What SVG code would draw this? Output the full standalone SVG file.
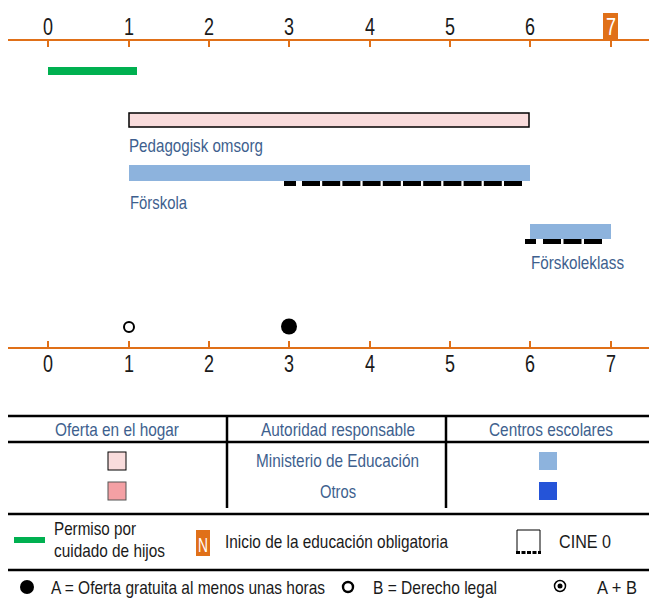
<svg xmlns="http://www.w3.org/2000/svg" width="649" height="600" viewBox="0 0 649 600">
<defs>
<style>
text{font-family:"Liberation Sans",Arial,sans-serif}
.num{font-size:23px;fill:#1a1a1a;text-anchor:middle}
.lbl{font-size:19px;fill:#3e5f8e}
.hdr{font-size:19px;fill:#3e5f8e}
.leg{font-size:19px;fill:#1a1a1a}
.axis{stroke:#e07018;stroke-width:2}
.tick{stroke:#e07018;stroke-width:2}
.rule{stroke:#000;stroke-width:2.5}
.dash{stroke:#000;stroke-width:5}
</style>
</defs>
<g id="top-axis">
<line class="axis" x1="8" y1="40" x2="649" y2="40"/>
<g class="tick">
<line x1="48" y1="40" x2="48" y2="47"/><line x1="129" y1="40" x2="129" y2="47"/><line x1="209" y1="40" x2="209" y2="47"/><line x1="289" y1="40" x2="289" y2="47"/><line x1="370" y1="40" x2="370" y2="47"/><line x1="450" y1="40" x2="450" y2="47"/><line x1="530" y1="40" x2="530" y2="47"/><line x1="611" y1="40" x2="611" y2="47"/>
</g>
<rect x="603" y="13" width="15" height="27" fill="#e07018"/>
<text class="num" x="48" y="35" textLength="10" lengthAdjust="spacingAndGlyphs">0</text><text class="num" x="129" y="35" textLength="10" lengthAdjust="spacingAndGlyphs">1</text><text class="num" x="209" y="35" textLength="10" lengthAdjust="spacingAndGlyphs">2</text><text class="num" x="289" y="35" textLength="10" lengthAdjust="spacingAndGlyphs">3</text><text class="num" x="370" y="35" textLength="10" lengthAdjust="spacingAndGlyphs">4</text><text class="num" x="450" y="35" textLength="10" lengthAdjust="spacingAndGlyphs">5</text><text class="num" x="530" y="35" textLength="10" lengthAdjust="spacingAndGlyphs">6</text><text class="num" x="611" y="35" textLength="10" lengthAdjust="spacingAndGlyphs" style="fill:#fff">7</text>
</g>
<g id="permiso-bar"><rect x="48" y="67" width="89" height="8" fill="#00b050"/></g>
<g id="pedagogisk-omsorg">
<rect x="129" y="113" width="400" height="14" fill="#f9dcdc" stroke="#000" stroke-width="1.5"/>
<text class="lbl" x="129" y="152" textLength="134" lengthAdjust="spacingAndGlyphs">Pedagogisk omsorg</text>
</g>
<g id="forskola">
<rect x="129" y="165" width="401" height="16" fill="#8db3dd"/>
<line class="dash" x1="284" y1="183.5" x2="296" y2="183.5"/>
<line class="dash" x1="302" y1="183.5" x2="524" y2="183.5" stroke-dasharray="18 2.2"/>
<text class="lbl" x="130" y="209" textLength="57" lengthAdjust="spacingAndGlyphs">Förskola</text>
</g>
<g id="forskoleklass">
<rect x="530" y="224" width="81" height="15" fill="#8db3dd"/>
<line class="dash" x1="525" y1="241.5" x2="536" y2="241.5"/>
<line class="dash" x1="543" y1="241.5" x2="603" y2="241.5" stroke-dasharray="18 2.5"/>
<text class="lbl" x="531" y="269" textLength="93" lengthAdjust="spacingAndGlyphs">Förskoleklass</text>
</g>
<g id="bottom-axis">
<line class="axis" x1="8" y1="348" x2="649" y2="348"/>
<g class="tick">
<line x1="48" y1="341" x2="48" y2="348"/><line x1="129" y1="341" x2="129" y2="348"/><line x1="209" y1="341" x2="209" y2="348"/><line x1="289" y1="341" x2="289" y2="348"/><line x1="370" y1="341" x2="370" y2="348"/><line x1="450" y1="341" x2="450" y2="348"/><line x1="530" y1="341" x2="530" y2="348"/><line x1="611" y1="341" x2="611" y2="348"/>
</g>
<text class="num" x="48" y="372" textLength="10" lengthAdjust="spacingAndGlyphs">0</text><text class="num" x="129" y="372" textLength="10" lengthAdjust="spacingAndGlyphs">1</text><text class="num" x="209" y="372" textLength="10" lengthAdjust="spacingAndGlyphs">2</text><text class="num" x="289" y="372" textLength="10" lengthAdjust="spacingAndGlyphs">3</text><text class="num" x="370" y="372" textLength="10" lengthAdjust="spacingAndGlyphs">4</text><text class="num" x="450" y="372" textLength="10" lengthAdjust="spacingAndGlyphs">5</text><text class="num" x="530" y="372" textLength="10" lengthAdjust="spacingAndGlyphs">6</text><text class="num" x="611" y="372" textLength="10" lengthAdjust="spacingAndGlyphs">7</text>
<circle cx="129" cy="327" r="5" fill="#fff" stroke="#000" stroke-width="2"/>
<circle cx="289" cy="326.5" r="8" fill="#000"/>
</g>
<g id="table">
<line class="rule" x1="8" y1="416" x2="649" y2="416"/>
<line class="rule" x1="8" y1="442" x2="649" y2="442"/>
<line class="rule" x1="227" y1="416" x2="227" y2="508"/>
<line class="rule" x1="446" y1="416" x2="446" y2="508"/>
<text class="hdr" x="55" y="436" textLength="124" lengthAdjust="spacingAndGlyphs">Oferta en el hogar</text>
<text class="hdr" x="261" y="436" textLength="154" lengthAdjust="spacingAndGlyphs">Autoridad responsable</text>
<text class="hdr" x="489" y="436" textLength="124" lengthAdjust="spacingAndGlyphs">Centros escolares</text>
<rect x="108" y="452" width="18" height="18" fill="#f9dcdc" stroke="#000" stroke-width="1"/>
<text class="hdr" x="256" y="467" textLength="163" lengthAdjust="spacingAndGlyphs">Ministerio de Educación</text>
<rect x="539" y="452" width="18" height="18" fill="#8db3dd"/>
<rect x="108" y="482" width="18" height="18" fill="#f4a0a4" stroke="#555" stroke-width="1"/>
<text class="hdr" x="320" y="498" textLength="36" lengthAdjust="spacingAndGlyphs">Otros</text>
<rect x="539" y="482" width="18" height="18" fill="#2554d8"/>
</g>
<g id="legend">
<line class="rule" x1="8" y1="514" x2="649" y2="514"/>
<rect x="14" y="537" width="31" height="6" fill="#00b050"/>
<text class="leg" x="54" y="535" textLength="82" lengthAdjust="spacingAndGlyphs">Permiso por</text>
<text class="leg" x="54" y="557" textLength="111" lengthAdjust="spacingAndGlyphs">cuidado de hijos</text>
<rect x="196" y="530" width="14" height="26" fill="#e07018"/>
<text class="leg" x="203" y="552" text-anchor="middle" textLength="10" lengthAdjust="spacingAndGlyphs" style="fill:#fff;font-size:21px">N</text>
<text class="leg" x="225" y="548" textLength="223" lengthAdjust="spacingAndGlyphs">Inicio de la educación obligatoria</text>
<path d="M517 553 V530 H540 V553" fill="none" stroke="#000" stroke-width="1"/>
<line x1="516" y1="552.5" x2="541" y2="552.5" stroke="#000" stroke-width="3" stroke-dasharray="4 1.5"/>
<text class="leg" x="559" y="548" textLength="52" lengthAdjust="spacingAndGlyphs">CINE 0</text>
<line class="rule" x1="8" y1="570" x2="649" y2="570"/>
<circle cx="27" cy="587" r="7" fill="#000"/>
<text class="leg" x="51" y="594" textLength="274" lengthAdjust="spacingAndGlyphs">A = Oferta gratuita al menos unas horas</text>
<circle cx="348" cy="587" r="5" fill="#fff" stroke="#000" stroke-width="2.4"/>
<text class="leg" x="373" y="594" textLength="124" lengthAdjust="spacingAndGlyphs">B = Derecho legal</text>
<circle cx="560" cy="586" r="5.5" fill="#fff" stroke="#000" stroke-width="1.5"/>
<circle cx="560" cy="586" r="2.5" fill="#000"/>
<text class="leg" x="597" y="594" textLength="40" lengthAdjust="spacingAndGlyphs">A + B</text>
</g>
</svg>
